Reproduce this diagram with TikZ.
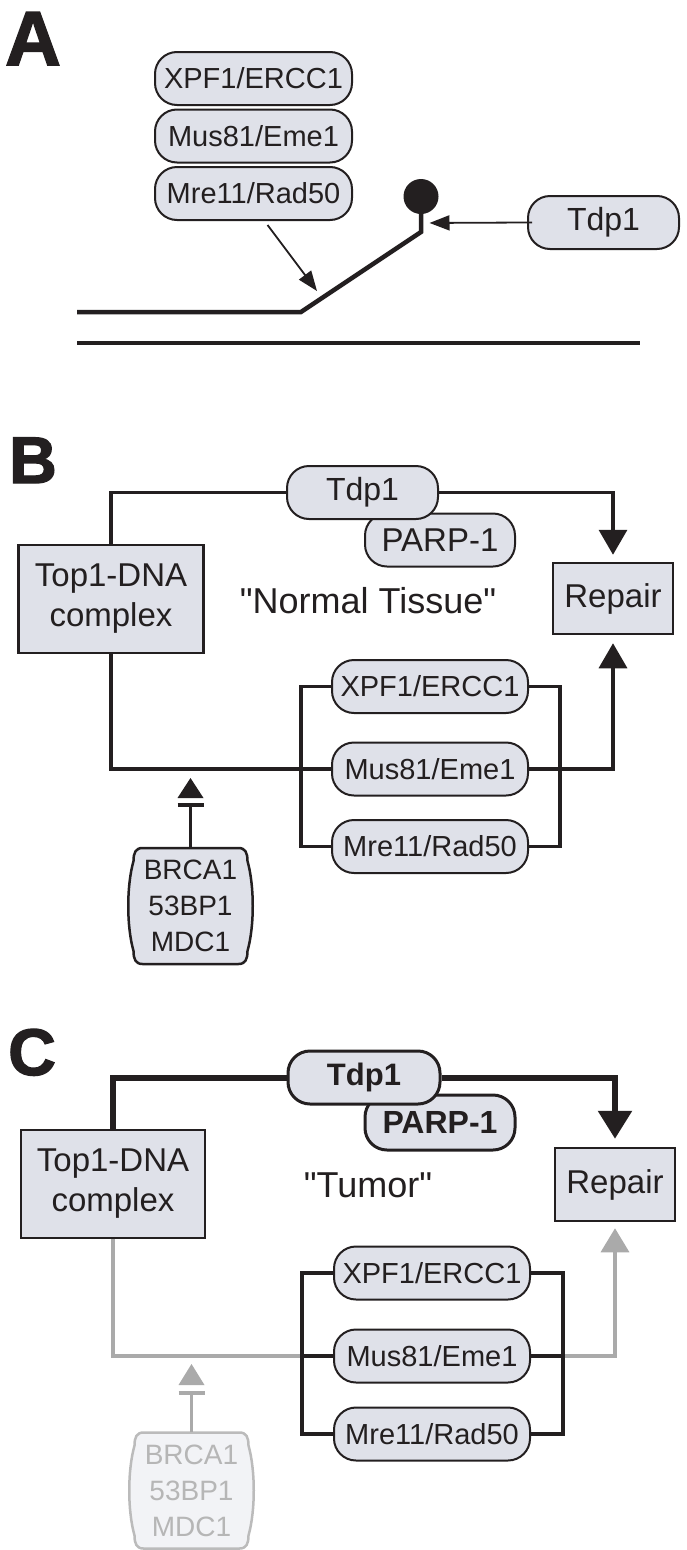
\documentclass[tikz,border=0pt]{standalone}
\usepackage{fontspec}
\setmainfont{Liberation Sans}
\newfontfamily\labfont[FakeBold=2]{Liberation Sans Bold}
\newfontfamily\qfont{Liberation Sans}
\usetikzlibrary{arrows.meta,backgrounds,calc}
\definecolor{pfill}{RGB}{223,225,233}
\definecolor{pline}{RGB}{35,31,32}
\definecolor{gline}{RGB}{170,170,170}
\definecolor{gtext}{RGB}{182,182,182}
\definecolor{gfill}{RGB}{242,243,246}
\tikzset{
  pill/.style={draw=pline, fill=pfill, line width=2pt, rounded corners=22pt,
    minimum height=53pt, inner sep=0pt, text=pline, font=\fontsize{29}{34}\selectfont},
  bpill/.style={pill, line width=3pt, font=\fontsize{31}{34}\selectfont\bfseries},
  boxn/.style={draw=pline, fill=pfill, line width=2.5pt, inner sep=0pt, text=pline,
    align=center, font=\fontsize{33}{40}\selectfont},
  quotelab/.style={inner sep=0pt, text=pline, font=\fontsize{36}{40}\qfont},
  panellab/.style={inner sep=0pt, anchor=base west, text=pline},
  conn/.style={line width=3.5pt, draw=pline},
  gconn/.style={line width=3.5pt, draw=gline},
  thickconn/.style={line width=6pt, draw=pline},
  strand/.style={line width=4.5pt, draw=pline},
  thinarrow/.style={line width=1.8pt, draw=pline, -{Triangle[width=15pt,length=20pt]}},
  headB/.style={-{Triangle[width=28pt,length=25pt]}},
  brcabox/.style={inner sep=0pt, minimum width=126pt, minimum height=116pt,
    align=center, font=\fontsize{28}{36}\selectfont},
}
% barrel outline around a node (local coordinates, y grows downwards)
\newcommand{\barrel}[2]{%
  \begin{scope}[shift={(#1.center)}]
    \draw[#2] (-48,-58) -- (48,-58)
      .. controls (55,-58) and (57,-53) .. (57,-45)
      .. controls (64,-20) and (64,20) .. (57,45)
      .. controls (57,53) and (55,58) .. (48,58)
      -- (-48,58)
      .. controls (-55,58) and (-57,53) .. (-57,45)
      .. controls (-64,20) and (-64,-20) .. (-57,-45)
      .. controls (-57,-53) and (-55,-58) .. (-48,-58) -- cycle;
  \end{scope}}
\begin{document}
\begin{tikzpicture}[x=1pt,y=-1pt]
\useasboundingbox (0,0) rectangle (686,1550);

% ---------------- Panel A ----------------
\node[panellab, font=\fontsize{77}{77}\labfont] (labA) at (5,65) {A};
\node[pill, minimum width=197pt] (xpfA) at (253.5,78.5) {XPF1/ERCC1};
\node[pill, minimum width=197pt] (musA) at (253.5,136) {Mus81/Eme1};
\node[pill, minimum width=197pt] (mreA) at (253.5,193.5) {Mre11/Rad50};
\node[pill, minimum width=151pt, font=\fontsize{32}{34}\selectfont] (tdpA) at (603.5,222.5) {Tdp1};
\node[circle, fill=pline, inner sep=0pt, minimum size=35pt] (ball) at (421,196.5) {};
\coordinate (stembot) at (421,232);
\coordinate (kink) at (301,312);
\coordinate (leftend) at (77,312);
\coordinate (botL) at (77,343);
\coordinate (botR) at (640,343);
\coordinate (stemhit) at (421,223);
\coordinate (cut) at (317,291);
\draw[strand] (leftend) -- (kink) -- (stembot) -- (ball.center);
\draw[strand] (botL) -- (botR);
\draw[thinarrow, shorten >=8.5pt, shorten <=-5pt] (tdpA.west) -- (stemhit);
\draw[thinarrow] ([xshift=14pt,yshift=-4pt]mreA.south) -- (cut);

% ---------------- Panel B ----------------
\node[panellab, font=\fontsize{66}{66}\labfont] (labB) at (9,483) {B};
\node[boxn, minimum width=185pt, minimum height=108pt] (top1B) at (111,599) {Top1-DNA\\complex};
\node[boxn, minimum width=120pt, minimum height=71pt] (repB) at (613,598.5) {Repair};
\node[pill, minimum width=150pt, font=\fontsize{33}{34}\selectfont] (parpB) at (440,540) {PARP-1};
\node[pill, minimum width=151pt, font=\fontsize{32}{34}\selectfont] (tdpB) at (362.5,492.5) {Tdp1};
\node[quotelab] (ntB) at (368,601) {"Normal Tissue"};
\node[pill, minimum width=196pt] (xpfB) at (430,686.5) {XPF1/ERCC1};
\node[pill, minimum width=196pt] (musB) at (430,769) {Mus81/Eme1};
\node[pill, minimum width=196pt] (mreB) at (430,846.5) {Mre11/Rad50};
\node[brcabox, text=pline] (brcaB) at (190.5,906) {BRCA1\\53BP1\\MDC1};
\coordinate (barB) at (190.5,805);
\begin{scope}[on background layer]
  \draw[conn] (top1B.north) |- (tdpB.west);
  \draw[conn, headB, shorten >=7pt] (tdpB.east) -| (repB.north);
  \draw[conn] (top1B.south) |- (musB.west);
  \draw[conn, headB, shorten >=8pt] (musB.east) -| (repB.south);
  \draw[conn] (xpfB.west) -- ++(-30,0) |- (mreB.west);
  \draw[conn] (xpfB.east) -- ++(31,0) |- (mreB.east);
  \barrel{brcaB}{fill=pfill, draw=pline, line width=2.5pt}
\end{scope}
\draw[conn] (brcaB.north) -- (barB);
\draw[line width=4pt, pline] ([xshift=-13pt]barB) -- ([xshift=13pt]barB);
\fill[pline] ([xshift=-13pt,yshift=7pt]barB) -- ([xshift=13pt,yshift=7pt]barB) -- ([yshift=27pt]barB) -- cycle;

% ---------------- Panel C ----------------
\node[panellab, font=\fontsize{66}{66}\labfont] (labC) at (8,1075) {C};
\node[boxn, minimum width=184pt, minimum height=108pt] (top1C) at (113,1184) {Top1-DNA\\complex};
\node[boxn, minimum width=120pt, minimum height=73pt] (repC) at (615,1184.5) {Repair};
\node[bpill, minimum width=150pt, minimum height=55pt, font=\fontsize{32}{34}\selectfont\bfseries] (parpC) at (440,1122.5) {PARP-1};
\node[bpill, minimum width=152pt] (tdpC) at (364,1077.5) {Tdp1};
\node[quotelab] (tuC) at (368,1185) {"Tumor"};
\node[pill, minimum width=196pt] (xpfC) at (432,1273) {XPF1/ERCC1};
\node[pill, minimum width=196pt] (musC) at (432,1356) {Mus81/Eme1};
\node[pill, minimum width=196pt] (mreC) at (432,1434) {Mre11/Rad50};
\node[brcabox, text=gtext] (brcaC) at (191.5,1490.5) {BRCA1\\53BP1\\MDC1};
\coordinate (barC) at (191.5,1393);
\begin{scope}[on background layer]
  \draw[gconn] (top1C.south) |- (musC.west);
  \draw[gconn, -{Triangle[width=28pt,length=24pt]}, shorten >=6pt] (musC.east) -| (repC.south);
  \draw[conn] (xpfC.west) -- ++(-31,0) |- (mreC.west);
  \draw[conn] (xpfC.east) -- ++(32,0) |- (mreC.east);
  \draw[conn] ([xshift=-31pt]musC.west) -- (musC.west);
  \draw[conn] ([xshift=32pt]musC.east) -- (musC.east);
  \draw[thickconn] (top1C.north) |- (tdpC.west);
  \draw[thickconn, -{Triangle[width=33pt,length=28pt]}, shorten >=8pt] (tdpC.east) -| (repC.north);
  \barrel{brcaC}{fill=gfill, draw=gline!80, line width=2.5pt}
\end{scope}
\draw[gconn] (brcaC.north) -- (barC);
\draw[line width=4pt, gline] ([xshift=-13pt]barC) -- ([xshift=13pt]barC);
\fill[gline] ([xshift=-13pt,yshift=8pt]barC) -- ([xshift=13pt,yshift=8pt]barC) -- ([yshift=29pt]barC) -- cycle;
\end{tikzpicture}
\end{document}
